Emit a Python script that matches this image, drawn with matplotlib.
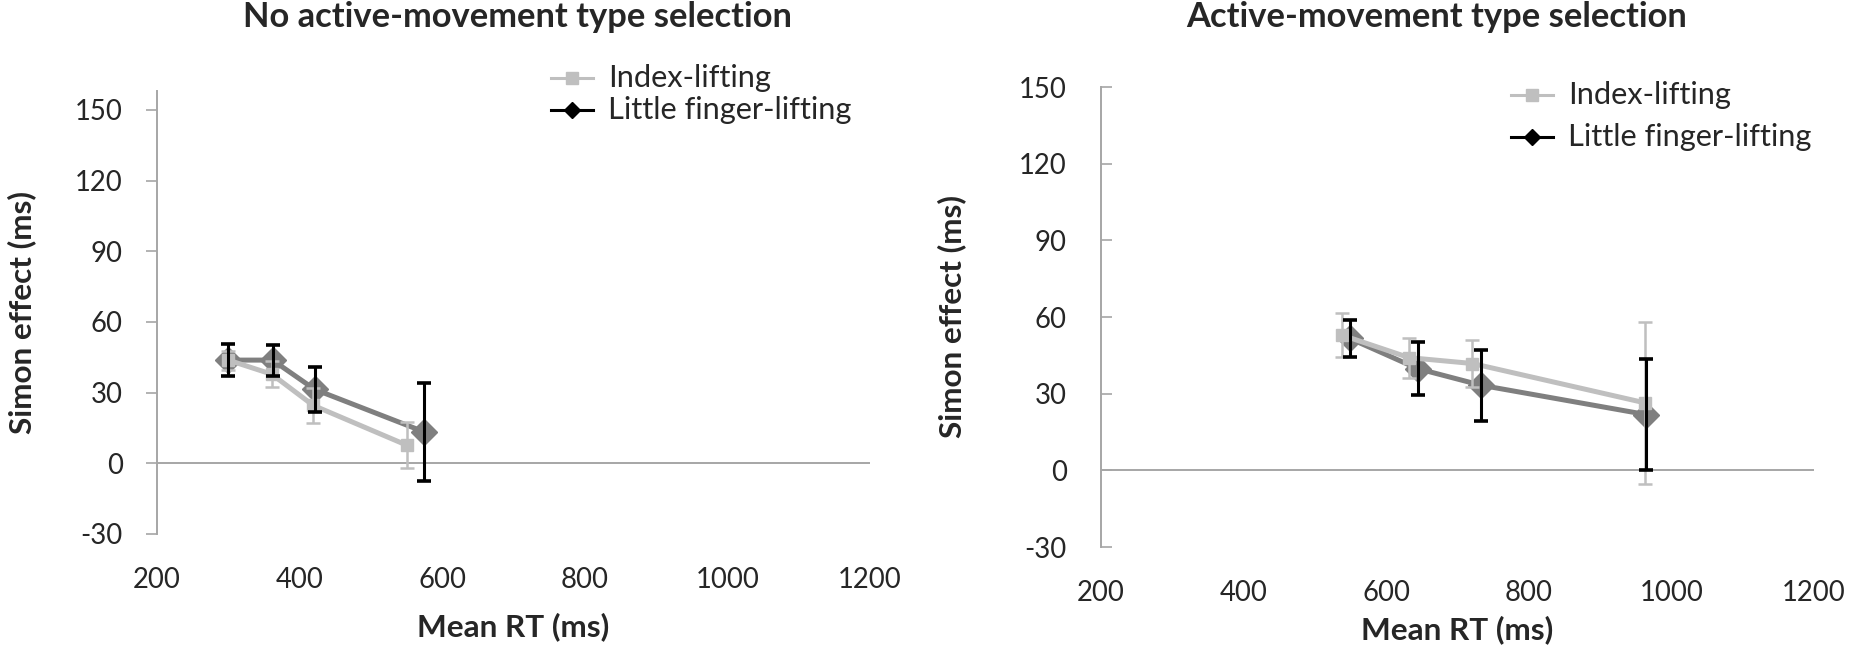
import numpy as np
import matplotlib
matplotlib.use('Agg')
import matplotlib.pyplot as plt
from matplotlib.lines import Line2D

plt.rcParams['font.family'] = ['Lato', 'DejaVu Sans']
plt.rcParams['axes.unicode_minus'] = False

# left panel: no active-movement type selection
no_index_rt = [300, 361, 419, 551]
no_index_se = [43.8, 37.8, 24.6, 7.6]
no_index_err = [4.0, 5.6, 7.5, 9.8]
no_little_rt = [300, 362, 421, 575]
no_little_se = [43.8, 43.8, 31.4, 13.3]
no_little_err = [6.7, 6.6, 9.5, 20.8]

# right panel: active-movement type selection
act_index_rt = [538, 632, 721, 963]
act_index_se = [52.9, 44.1, 41.8, 26.4]
act_index_err = [8.5, 7.8, 9.3, 31.6]
act_little_rt = [549, 644, 733, 965]
act_little_se = [51.6, 39.8, 33.3, 21.8]
act_little_err = [7.2, 10.4, 13.9, 21.8]

xticks = [200, 400, 600, 800, 1000, 1200]
yticks = [-30, 0, 30, 60, 90, 120, 150]
series_names = ['Index-lifting', 'Little finger-lifting']
titles = ['No active-movement type selection', 'Active-movement type selection']

light = '#BFBFBF'
dark = '#7F7F7F'
axcol = '#A6A6A6'
txt = '#262626'

W, H = 1850, 654
fig = plt.figure(figsize=(W / 100, H / 100), dpi=100)
rend = fig.canvas.get_renderer()


def fit_size(s, width_px, weight='normal', base=20.0):
    # font size that makes string s about width_px wide
    t = fig.text(0, 0, s, fontsize=base, fontweight=weight)
    w = t.get_window_extent(renderer=rend).width
    t.remove()
    return base * width_px / w


def px_axes(x0, x1, y_top, y_bot):
    return [x0 / W, (H - y_bot) / H, (x1 - x0) / W, (y_bot - y_top) / H]


tick_fs = fit_size('150', 48)
label_fs = fit_size('Mean RT (ms)', 192, 'bold')
title_fs = fit_size(titles[0], 549, 'bold')
leg_fs = fit_size(series_names[1], 245)

axL = fig.add_axes(px_axes(157, 870, 91, 534))
axR = fig.add_axes(px_axes(1101, 1814, 87, 547))


def panel(ax, ix, iy, ie, lx, ly, le, ymax, tickdir, tickpad):
    ax.plot(lx, ly, color=dark, lw=3.6, marker='D', ms=13, zorder=3)
    ax.plot(ix, iy, color=light, lw=3.6, marker='s', ms=9, zorder=4)
    ax.errorbar(ix, iy, yerr=ie, fmt='none', ecolor=light, elinewidth=1.8,
                capsize=5, capthick=1.8, zorder=5)
    ax.errorbar(lx, ly, yerr=le, fmt='none', ecolor='black', elinewidth=2.2,
                capsize=5, capthick=2.6, zorder=6)

    ax.axhline(0, color=axcol, lw=1.4, zorder=1)
    ax.set_xlim(200, 1200)
    ax.set_ylim(-30, ymax)
    ax.set_xticks(xticks)
    ax.set_yticks(yticks)
    for s in ['top', 'right', 'bottom']:
        ax.spines[s].set_visible(False)
    ax.spines['left'].set_color(axcol)
    ax.spines['left'].set_linewidth(1.4)
    ax.tick_params(axis='x', length=0, pad=24, labelsize=tick_fs, labelcolor=txt)
    ax.tick_params(axis='y', direction=tickdir, length=8, width=1.2,
                   color=axcol, pad=tickpad, labelsize=tick_fs, labelcolor=txt)
    ax.set_xlabel('Mean RT (ms)', fontsize=label_fs, fontweight='bold', color=txt)
    ax.set_ylabel('Simon effect (ms)', fontsize=label_fs, fontweight='bold', color=txt)
    ax.xaxis.label.set_va('center')
    ax.yaxis.label.set_va('center')
    ax.patch.set_alpha(0)


panel(axL, no_index_rt, no_index_se, no_index_err,
      no_little_rt, no_little_se, no_little_err, 158, 'out', 16.5)
panel(axR, act_index_rt, act_index_se, act_index_err,
      act_little_rt, act_little_se, act_little_err, 150, 'in', 24.5)

axL.xaxis.set_label_coords(0.5, -(627 - 534) / (534 - 91))
axR.xaxis.set_label_coords(0.5, -(630 - 547) / (547 - 87))
axL.yaxis.set_label_coords((22 - 157) / 713, 0.5)
axR.yaxis.set_label_coords((952 - 1101) / 713, 0.5)

# titles
fig.text(243 / W, 1 - 17 / H, titles[0], ha='left', va='center',
         fontsize=title_fs, fontweight='bold', color=txt)
fig.text(1687 / W, 1 - 17 / H, titles[1], ha='right', va='center',
         fontsize=title_fs, fontweight='bold', color=txt)


# legends, drawn by hand in figure pixels
def legend(x0, rows):
    styles = [dict(color=light, marker='s', ms=9), dict(color='black', marker='D', ms=8)]
    for name, y, st in zip(series_names, rows, styles):
        yf = 1 - y / H
        fig.add_artist(Line2D([x0 / W, (x0 + 42) / W], [yf, yf], lw=2.2,
                              color=st['color'], transform=fig.transFigure))
        fig.add_artist(Line2D([(x0 + 21) / W], [yf], marker=st['marker'], ms=st['ms'],
                              color=st['color'], lw=0, transform=fig.transFigure))
        fig.text((x0 + 57) / W, yf, name, ha='left', va='center',
                 fontsize=leg_fs, color=txt)


legend(551, [78, 110])
legend(1511, [95, 137])

fig.savefig('out.png', dpi=100)
